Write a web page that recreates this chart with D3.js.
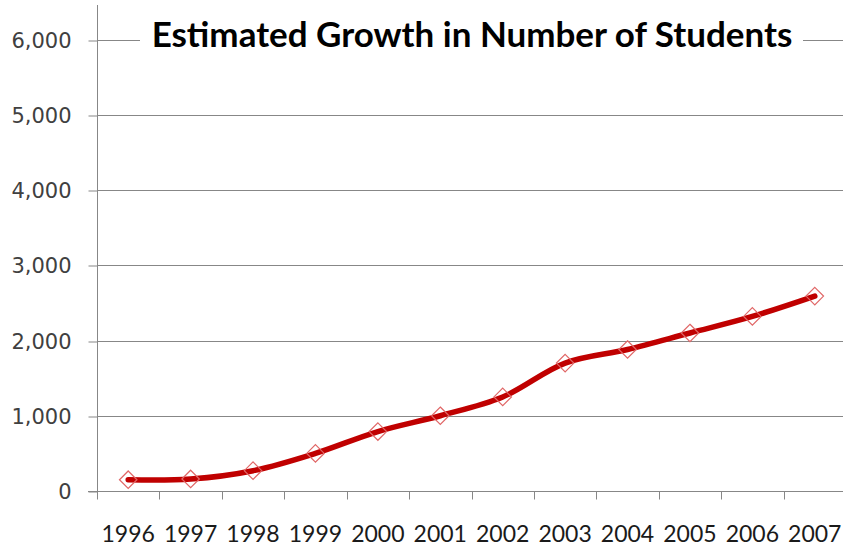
<!DOCTYPE html>
<html><head><meta charset="utf-8">
<script src="https://cdn.jsdelivr.net/npm/d3@7"></script>
<style>html,body{margin:0;padding:0;background:#fff;overflow:hidden}</style>
</head><body>
<svg id="chart" width="843" height="547"></svg>
<script>
const years = ["1996","1997","1998","1999","2000","2001","2002","2003","2004","2005","2006","2007"];
const students = [150,160,270,500,790,1000,1250,1700,1880,2100,2320,2590];
const yTicks = [0,1000,2000,3000,4000,5000,6000];
const title = "Estimated Growth in Number of Students";

const svg = d3.select("#chart");
const left = 97, right = 846, top0 = 39.5, bottom = 491;
const x = d3.scaleBand().domain(years).range([left, right]);
const y = d3.scaleLinear().domain([0, 6000]).range([bottom, top0]);
const gridColor = "#878787";

// gridlines
svg.append("g").selectAll("line").data(yTicks.filter(d => d > 0)).join("line")
  .attr("x1", left).attr("x2", 843)
  .attr("y1", d => Math.round(y(d)) + 0.5).attr("y2", d => Math.round(y(d)) + 0.5)
  .attr("stroke", gridColor).attr("stroke-width", 1);

// y axis
const yAxis = svg.append("g").attr("transform", `translate(${left + 0.5},0)`)
  .call(d3.axisLeft(y).tickValues(yTicks).tickSize(9).tickPadding(17).tickFormat(d3.format(",")));
yAxis.select(".domain").remove();
yAxis.append("line").attr("x1", 0).attr("x2", 0).attr("y1", 5).attr("y2", bottom + 8).attr("stroke", gridColor);
yAxis.selectAll(".tick line").attr("stroke", gridColor).attr("transform", d => `translate(0,${Math.round(y(d)) + 0.5 - y(d)})`);
yAxis.selectAll(".tick text").attr("font-family", "DejaVu Sans").attr("font-size", 21).attr("fill", "#404040")
  .attr("dy", "0.36em");

// x axis
const xg = svg.append("g").attr("transform", `translate(0,${Math.round(bottom) + 0.5})`);
xg.append("line").attr("x1", left - 9).attr("x2", 843).attr("stroke", gridColor);
xg.selectAll("line.tk").data(years.concat(["end"])).join("line").attr("class", "tk")
  .attr("x1", (d, i) => Math.round(left + i * x.step()) + 0.5)
  .attr("x2", (d, i) => Math.round(left + i * x.step()) + 0.5)
  .attr("y1", 0).attr("y2", 8).attr("stroke", gridColor);
xg.selectAll("text").data(years).join("text")
  .attr("x", d => x(d) + x.bandwidth() / 2).attr("y", 50)
  .attr("text-anchor", "middle").attr("font-family", "Lato").attr("font-size", 23).attr("fill", "#1a1a1a")
  .text(d => d);

// line
const line = d3.line().x((d, i) => x(years[i]) + x.bandwidth() / 2).y(d => y(d)).curve(d3.curveCatmullRom.alpha(0.5));
svg.append("path").datum(students).attr("d", line).attr("fill", "none")
  .attr("stroke", "#C00000").attr("stroke-width", 5.5).attr("stroke-linecap", "round");

// markers
const sym = d3.symbol().type(d3.symbolDiamond2).size(195);
svg.append("g").selectAll("path").data(students).join("path")
  .attr("d", sym)
  .attr("transform", (d, i) => `translate(${x(years[i]) + x.bandwidth() / 2},${y(d)})`)
  .attr("fill", "none").attr("stroke", "#E06666").attr("stroke-width", 1.2);

// title with white box
const tg = svg.append("g");
const tb = tg.append("rect").attr("fill", "#fff");
const tt = tg.append("text").attr("x", 472).attr("y", 47).attr("text-anchor", "middle")
  .attr("font-family", "Lato").attr("font-weight", "bold").attr("font-size", 32).attr("fill", "#000").text(title);
const w = tt.node().getComputedTextLength();
tt.attr("font-size", 32 * 641 / w);
tb.attr("x", 140).attr("y", 15).attr("width", 663).attr("height", 45);
</script>
</body></html>
